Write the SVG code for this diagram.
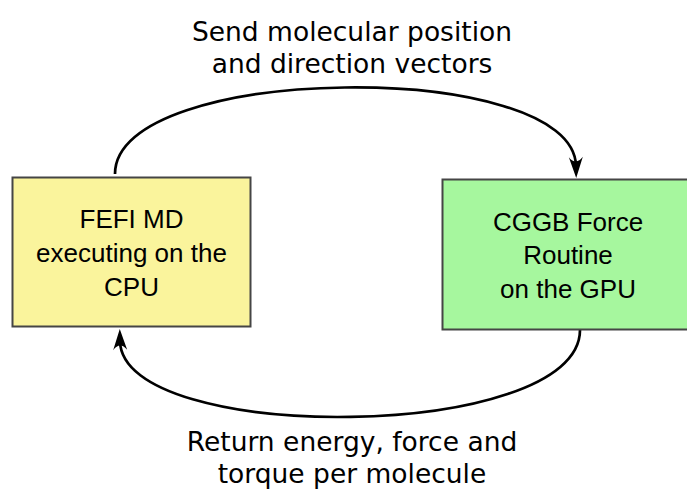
<svg xmlns="http://www.w3.org/2000/svg" width="687" height="491" viewBox="0 0 687 491">
  <style>
    .box { stroke: #454545; stroke-width: 2; }
    .cpu { fill: #faf49c; }
    .gpu { fill: #a6f79e; }
    .node-text { font-family: "Liberation Sans", Arial, sans-serif; font-size: 26px; fill: #000; text-anchor: middle; }
    .label { font-family: "DejaVu Sans", Verdana, sans-serif; font-size: 26.5px; fill: #000; text-anchor: middle; }
    .link { fill: none; stroke: #000; stroke-width: 2.7; marker-end: url(#arrow); }
  </style>
  <defs>
    <!-- concave arrowhead, tip at (0,0), pointing along +x; attached at its notch -->
    <marker id="arrow" markerUnits="userSpaceOnUse" markerWidth="24" markerHeight="18" viewBox="-22 -9 24 18" refX="-12" refY="0" orient="auto">
      <path d="M0,0 L-21,-7 Q-12,0 -21,7 Z" fill="#000"/>
    </marker>
  </defs>

  <rect width="687" height="491" fill="#fff"/>

  <g id="connectors">
    <path class="link" d="M115,174 C115,62 574,58 576,166"/>
    <path class="link" d="M580,330 C580,442 122,446 120,341"/>
  </g>

  <g id="cpu-node">
    <rect class="box cpu" x="12.5" y="177.5" width="238" height="149"/>
    <text class="node-text" x="131.5" y="228">FEFI MD</text>
    <text class="node-text" x="131.5" y="262">executing on the</text>
    <text class="node-text" x="131.5" y="296">CPU</text>
  </g>

  <g id="gpu-node">
    <rect class="box gpu" x="442.5" y="179.5" width="260" height="150"/>
    <text class="node-text" x="568" y="231">CGGB Force</text>
    <text class="node-text" x="568" y="264">Routine</text>
    <text class="node-text" x="568" y="298">on the GPU</text>
  </g>

  <g id="send-label">
    <text class="label" x="352" y="41">Send molecular position</text>
    <text class="label" x="352" y="73">and direction vectors</text>
  </g>

  <g id="return-label">
    <text class="label" x="352" y="451">Return energy, force and</text>
    <text class="label" x="352" y="483">torque per molecule</text>
  </g>
</svg>
